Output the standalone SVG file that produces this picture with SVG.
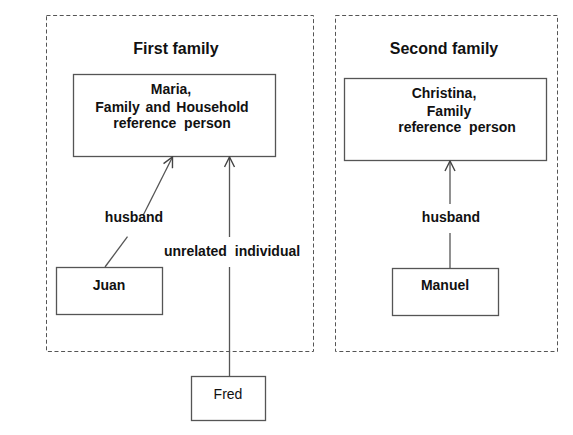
<svg xmlns="http://www.w3.org/2000/svg" width="573" height="435" viewBox="0 0 573 435">
<defs>
<style>
.grp{fill:none;stroke:#555;stroke-width:1;stroke-dasharray:4,2.6}
.box{fill:#fff;stroke:#555;stroke-width:1.3}
.t{font-family:"Liberation Sans",Arial,sans-serif;font-size:14px;font-weight:bold;fill:#111;text-anchor:middle}
.title{font-size:16px}
.reg{font-weight:normal}
.ln{fill:none;stroke:#555;stroke-width:1.3}
</style>
<marker id="arr" viewBox="0 0 12 12" refX="11" refY="6" markerWidth="12" markerHeight="12" markerUnits="userSpaceOnUse" orient="auto">
<path d="M1,1 L11,6 L1,11" fill="none" stroke="#444" stroke-width="1.4"/>
</marker>
</defs>
<rect width="573" height="435" fill="#fff"/>
<g id="first-family">
<rect class="grp" x="46.5" y="15.5" width="267" height="336"/>
<text class="t title" x="176" y="54">First family</text>
</g>
<g id="second-family">
<rect class="grp" x="335.5" y="15.5" width="222" height="336"/>
<text class="t title" x="444" y="54">Second family</text>
</g>
<g id="maria">
<rect class="box" x="73.5" y="74.5" width="202" height="82"/>
<text class="t" x="171" y="94">Maria,</text>
<text class="t" x="172" y="112" style="word-spacing:2px">Family and Household</text>
<text class="t" x="172" y="128" style="word-spacing:4px">reference person</text>
</g>
<g id="christina">
<rect class="box" x="344.5" y="78.5" width="202" height="82"/>
<text class="t" x="444" y="98">Christina,</text>
<text class="t" x="449" y="116">Family</text>
<text class="t" x="457" y="132" style="word-spacing:4px">reference person</text>
</g>
<g id="juan">
<rect class="box" x="56.5" y="267.5" width="106" height="47"/>
<text class="t" x="109" y="290">Juan</text>
</g>
<g id="manuel">
<rect class="box" x="392.5" y="268.5" width="106" height="47"/>
<text class="t" x="445" y="290">Manuel</text>
</g>
<g id="fred">
<rect class="box" x="191.5" y="376.5" width="74" height="44"/>
<text class="t reg" x="228" y="399">Fred</text>
</g>
<g id="connectors">
<path class="ln" d="M105,267 L127.5,236.6"/>
<path class="ln" d="M143.3,215 L172.5,157" marker-end="url(#arr)"/>
<text class="t" x="134" y="222">husband</text>
<path class="ln" d="M229.5,376 L229.5,267"/>
<path class="ln" d="M229.5,237 L229.5,157" marker-end="url(#arr)"/>
<text class="t" x="232" y="256" style="word-spacing:4px">unrelated individual</text>
<path class="ln" d="M450,268 L450,233"/>
<path class="ln" d="M450,204 L450,161" marker-end="url(#arr)"/>
<text class="t" x="451" y="222">husband</text>
</g>
</svg>
